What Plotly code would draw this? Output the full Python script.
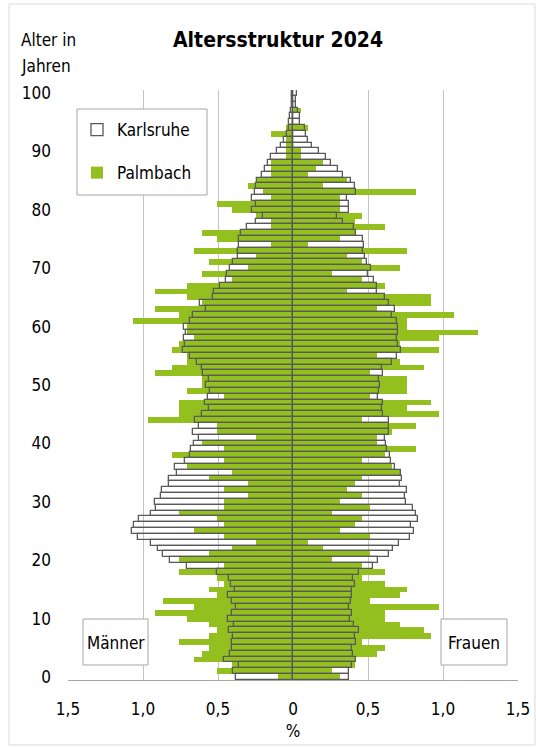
import plotly.graph_objects as go

ages = list(range(0, 101))

# Karlsruhe, Männer (% of population), age 0..100
karlsruhe_m = [0.38, 0.40, 0.36, 0.46, 0.417, 0.41, 0.41, 0.403, 0.428, 0.395,
               0.432, 0.41, 0.38, 0.41, 0.435, 0.39, 0.412, 0.428, 0.51, 0.71,
               0.817, 0.867, 0.903, 0.95, 1.032, 1.075, 1.057, 1.025, 0.945, 0.912,
               0.917, 0.88, 0.872, 0.825, 0.825, 0.775, 0.785, 0.72, 0.69, 0.68,
               0.66, 0.63, 0.665, 0.63, 0.655, 0.605, 0.56, 0.585, 0.57, 0.556,
               0.58, 0.56, 0.60, 0.607, 0.643, 0.69, 0.735, 0.72, 0.73, 0.715,
               0.728, 0.69, 0.67, 0.58, 0.617, 0.535, 0.53, 0.49, 0.45, 0.44,
               0.42, 0.40, 0.37, 0.365, 0.357, 0.357, 0.345, 0.305, 0.245, 0.20,
               0.272, 0.25, 0.272, 0.255, 0.25, 0.24, 0.205, 0.186, 0.168, 0.146,
               0.11, 0.083, 0.06, 0.04, 0.03, 0.025, 0.017, 0.012, 0.01, 0.008,
               0.005]

# Karlsruhe, Frauen
karlsruhe_f = [0.37, 0.37, 0.39, 0.42, 0.397, 0.393, 0.42, 0.415, 0.44, 0.405,
               0.38, 0.39, 0.375, 0.384, 0.39, 0.39, 0.41, 0.397, 0.437, 0.536,
               0.565, 0.637, 0.666, 0.708, 0.783, 0.808, 0.788, 0.832, 0.82, 0.797,
               0.752, 0.748, 0.76, 0.712, 0.726, 0.717, 0.677, 0.652, 0.645, 0.625,
               0.62, 0.615, 0.64, 0.637, 0.637, 0.60, 0.59, 0.60, 0.565, 0.57,
               0.58, 0.575, 0.60, 0.595, 0.663, 0.69, 0.717, 0.703, 0.695, 0.703,
               0.703, 0.695, 0.66, 0.68, 0.64, 0.61, 0.56, 0.56, 0.54, 0.50,
               0.52, 0.49, 0.48, 0.468, 0.475, 0.465, 0.42, 0.405, 0.33, 0.295,
               0.37, 0.37, 0.36, 0.42, 0.41, 0.385, 0.33, 0.30, 0.25, 0.22,
               0.17, 0.125, 0.10, 0.085, 0.077, 0.048, 0.048, 0.03, 0.02, 0.02,
               0.025]

# Palmbach, Männer
palmbach_m = [0.10, 0.51, 0.41, 0.66, 0.61, 0.56, 0.76, 0.56, 0.51, 0.56,
              0.71, 0.92, 0.66, 0.87, 0.51, 0.56, 0.46, 0.51, 0.76, 0.46,
              0.76, 0.56, 0.41, 0.25, 0.46, 0.66, 0.46, 0.51, 0.76, 0.46,
              0.46, 0.30, 0.46, 0.30, 0.56, 0.41, 0.71, 0.46, 0.81, 0.46,
              0.61, 0.25, 0.51, 0.51, 0.97, 0.76, 0.76, 0.76, 0.46, 0.71,
              0.61, 0.61, 0.92, 0.81, 0.71, 0.71, 0.81, 0.76, 0.66, 0.71,
              0.71, 1.07, 0.76, 0.92, 0.61, 0.71, 0.92, 0.71, 0.41, 0.61,
              0.30, 0.56, 0.25, 0.66, 0.15, 0.51, 0.61, 0.15, 0.15, 0.25,
              0.41, 0.51, 0.15, 0.20, 0.30, 0.25, 0.15, 0.15, 0.15, 0.05,
              0.05, 0.05, 0.05, 0.15, 0.05, 0.0, 0.0, 0.0, 0.0, 0.0,
              0.0]

# Palmbach, Frauen
palmbach_f = [0.31, 0.26, 0.41, 0.41, 0.56, 0.61, 0.46, 0.92, 0.87, 0.71,
              0.61, 0.61, 0.97, 0.51, 0.71, 0.76, 0.61, 0.46, 0.61, 0.46,
              0.26, 0.51, 0.20, 0.10, 0.51, 0.31, 0.41, 0.46, 0.26, 0.51,
              0.31, 0.46, 0.36, 0.41, 0.46, 0.71, 0.66, 0.46, 0.61, 0.82,
              0.56, 0.56, 0.66, 0.82, 0.46, 0.97, 0.76, 0.92, 0.51, 0.76,
              0.76, 0.76, 0.51, 0.87, 0.71, 0.56, 0.97, 0.71, 0.97, 1.23,
              0.76, 0.76, 1.07, 0.56, 0.92, 0.92, 0.36, 0.61, 0.46, 0.26,
              0.71, 0.46, 0.36, 0.76, 0.10, 0.31, 0.41, 0.61, 0.41, 0.46,
              0.31, 0.31, 0.31, 0.82, 0.20, 0.36, 0.10, 0.15, 0.20, 0.05,
              0.05, 0.0, 0.0, 0.0, 0.10, 0.0, 0.0, 0.05, 0.0, 0.0,
              0.0]

x_tickvals = [-1.5, -1.0, -0.5, 0, 0.5, 1.0, 1.5]
x_ticktext = ["1,5", "1,0", "0,5", "0", "0,5", "1,0", "1,5"]
y_tickvals = list(range(0, 101, 10))

GREEN = "#93C01F"
OUTLINE = "#595959"
FONT = "Liberation Sans Narrow, DejaVu Sans Condensed, Arial Narrow, sans-serif"

fig = go.Figure()

# Palmbach (green, filled)
fig.add_trace(go.Bar(y=ages, x=[-v for v in palmbach_m], orientation="h", width=1,
                     marker=dict(color=GREEN, line=dict(width=0)),
                     name="Palmbach", legendgroup="p", legendrank=2, showlegend=True))
fig.add_trace(go.Bar(y=ages, x=palmbach_f, orientation="h", width=1,
                     marker=dict(color=GREEN, line=dict(width=0)),
                     name="Palmbach", legendgroup="p", showlegend=False))
# Karlsruhe (outline only, drawn on top)
fig.add_trace(go.Bar(y=ages, x=[-v for v in karlsruhe_m], orientation="h", width=1,
                     marker=dict(color="rgba(255,255,255,0)", line=dict(color=OUTLINE, width=1.3)),
                     name="Karlsruhe", legendgroup="k", legendrank=1, showlegend=True))
fig.add_trace(go.Bar(y=ages, x=karlsruhe_f, orientation="h", width=1,
                     marker=dict(color="rgba(255,255,255,0)", line=dict(color=OUTLINE, width=1.3)),
                     name="Karlsruhe", legendgroup="k", showlegend=False))

L, T, PW, PH = 68, 90, 450, 590


def px(xp):
    return (xp - L) / PW


def py(yp):
    return (T + PH - yp) / PH


shapes = [
    # chart border
    dict(type="rect", xref="paper", yref="paper", x0=px(9), x1=px(535), y0=py(745), y1=py(4),
         line=dict(color="#D9D9D9", width=1), layer="below"),
    # legend box
    dict(type="rect", xref="paper", yref="paper", x0=px(77), x1=px(207), y0=py(195), y1=py(109),
         line=dict(color="#A6A6A6", width=1), fillcolor="white", layer="above"),
    # Männer box
    dict(type="rect", xref="paper", yref="paper", x0=px(83), x1=px(148), y0=py(665), y1=py(619),
         line=dict(color="#A6A6A6", width=1), fillcolor="white", layer="above"),
    # Frauen box
    dict(type="rect", xref="paper", yref="paper", x0=px(441), x1=px(507), y0=py(665), y1=py(619),
         line=dict(color="#A6A6A6", width=1), fillcolor="white", layer="above"),
]

annotations = [
    dict(text="<b>Altersstruktur 2024</b>", xref="paper", yref="paper", x=px(278), y=py(40),
         showarrow=False, font=dict(size=21, color="#000000", family=FONT), xanchor="center", yanchor="middle"),
    dict(text="Alter in", xref="paper", yref="paper", x=px(19), y=py(40),
         showarrow=False, font=dict(size=17, color="#000000", family=FONT), xanchor="left", yanchor="middle"),
    dict(text="Jahren", xref="paper", yref="paper", x=px(19), y=py(66),
         showarrow=False, font=dict(size=17, color="#000000", family=FONT), xanchor="left", yanchor="middle"),
    dict(text="Männer", xref="paper", yref="paper", x=px(115.5), y=py(643),
         showarrow=False, font=dict(size=17, color="#000000", family=FONT), xanchor="center", yanchor="middle"),
    dict(text="Frauen", xref="paper", yref="paper", x=px(474), y=py(643),
         showarrow=False, font=dict(size=17, color="#000000", family=FONT), xanchor="center", yanchor="middle"),
]

fig.update_layout(
    width=536, height=747,
    margin=dict(l=L, r=536 - L - PW, t=T, b=747 - T - PH, pad=0, autoexpand=False),
    paper_bgcolor="white", plot_bgcolor="white",
    barmode="overlay", bargap=0,
    font=dict(family=FONT, size=17, color="#000000"),
    showlegend=True,
    legend=dict(x=px(77), y=py(112), xanchor="left", yanchor="top",
                bgcolor="rgba(0,0,0,0)", borderwidth=0,
                font=dict(size=17, family=FONT, color="#000000"),
                traceorder="grouped", tracegroupgap=18),
    shapes=shapes,
    annotations=annotations,
    xaxis=dict(range=[-1.5, 1.5], tickvals=x_tickvals, ticktext=x_ticktext,
               showgrid=True, gridcolor="#C4C4C4", gridwidth=1, zeroline=False,
               showline=True, linecolor="#A6A6A6", linewidth=1, ticks="",
               ticklabelstandoff=14, tickfont=dict(size=17), automargin=False,
               title=dict(text="%", font=dict(size=17), standoff=6), fixedrange=True),
    yaxis=dict(range=[-0.5, 100.5], tickvals=y_tickvals, showgrid=False, zeroline=False,
               showline=False, ticks="", ticklabelstandoff=16, tickfont=dict(size=17),
               automargin=False, fixedrange=True),
)

fig.write_html("out.html", config={"displayModeBar": False},
               post_script="document.body.style.margin='0px';document.body.style.overflow='hidden';")
